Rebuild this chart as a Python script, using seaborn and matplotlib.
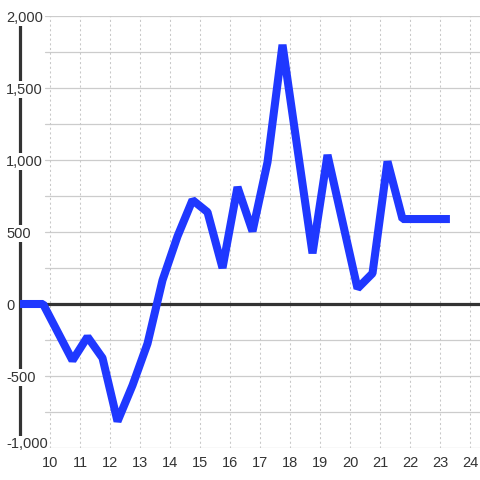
import matplotlib
matplotlib.use("Agg")
import matplotlib.pyplot as plt
from matplotlib.transforms import ScaledTranslation
import seaborn as sns
import pandas as pd

x_vals = [9.0, 9.77, 10.75, 11.25, 11.75, 12.25, 12.75, 13.25, 13.75, 14.25,
          14.75, 15.25, 15.75, 16.25, 16.75, 17.25, 17.75, 18.75, 19.25,
          20.25, 20.75, 21.25, 21.75, 23.33]
y_vals = [0, 0, -392, -228, -375, -815, -565, -275, 165, 470,
          722, 638, 250, 812, 505, 985, 1800, 352, 1035,
          108, 213, 990, 590, 590]
x_ticks = list(range(10, 25))
y_ticks = [-1000, -500, 0, 500, 1000, 1500, 2000]
y_tick_labels = ["-1,000", "-500", "0", "500", "1,000", "1,500", "2,000"]
y_grid = [-1000, -750, -500, -250, 0, 250, 500, 750, 1000, 1250, 1500, 1750, 2000]

sns.set_style("white")
plt.rcParams['font.family'] = ['Liberation Sans', 'DejaVu Sans']

fig = plt.figure(figsize=(4.8, 4.8), dpi=100)
ax = fig.add_axes([20/480, 32/480, 460/480, 432/480])
ax.set_xlim(9.0, 24.333)
ax.set_ylim(-1000, 2000)

gx0 = 25/460
for v in y_grid:
    ax.axhline(v, xmin=gx0, color='#cccccc', lw=0.9, zorder=1)
for v in x_ticks:
    ax.axvline(v, color='#c8c8c8', lw=0.75, linestyle=(0, (2, 2.5)), zorder=1)
ax.axhline(0, color='#333333', lw=2.3, zorder=3)

df = pd.DataFrame({'x': x_vals, 'y': y_vals})
sns.lineplot(data=df, x='x', y='y', ax=ax, color='#1f38ff', lw=5.8,
             solid_joinstyle='bevel', solid_capstyle='butt', zorder=6,
             estimator=None, sort=False)
ax.set_xlabel('')
ax.set_ylabel('')

for s in ['top', 'right', 'bottom']:
    ax.spines[s].set_visible(False)
ax.spines['left'].set_color('#333333')
ax.spines['left'].set_linewidth(2.3)
ax.spines['left'].set_zorder(2)

ax.set_xticks(x_ticks)
ax.set_xticklabels([str(t) for t in x_ticks])
ax.set_yticks(y_ticks)
ax.set_yticklabels(y_tick_labels)
ax.tick_params(axis='x', length=0, pad=6, labelsize=10.5, labelcolor='#333333')
ax.tick_params(axis='y', length=0, pad=10, labelsize=10.5, labelcolor='#333333')
for i, lbl in enumerate(ax.get_yticklabels()):
    lbl.set_horizontalalignment('left')
    lbl.set_bbox(dict(facecolor='white', edgecolor='none', pad=0.8))
    if i == 0:
        lbl.set_transform(lbl.get_transform() + ScaledTranslation(0, 5/100, fig.dpi_scale_trans))
ax.yaxis.set_zorder(4)
ax.grid(False)

fig.savefig('out.png', dpi=100)
